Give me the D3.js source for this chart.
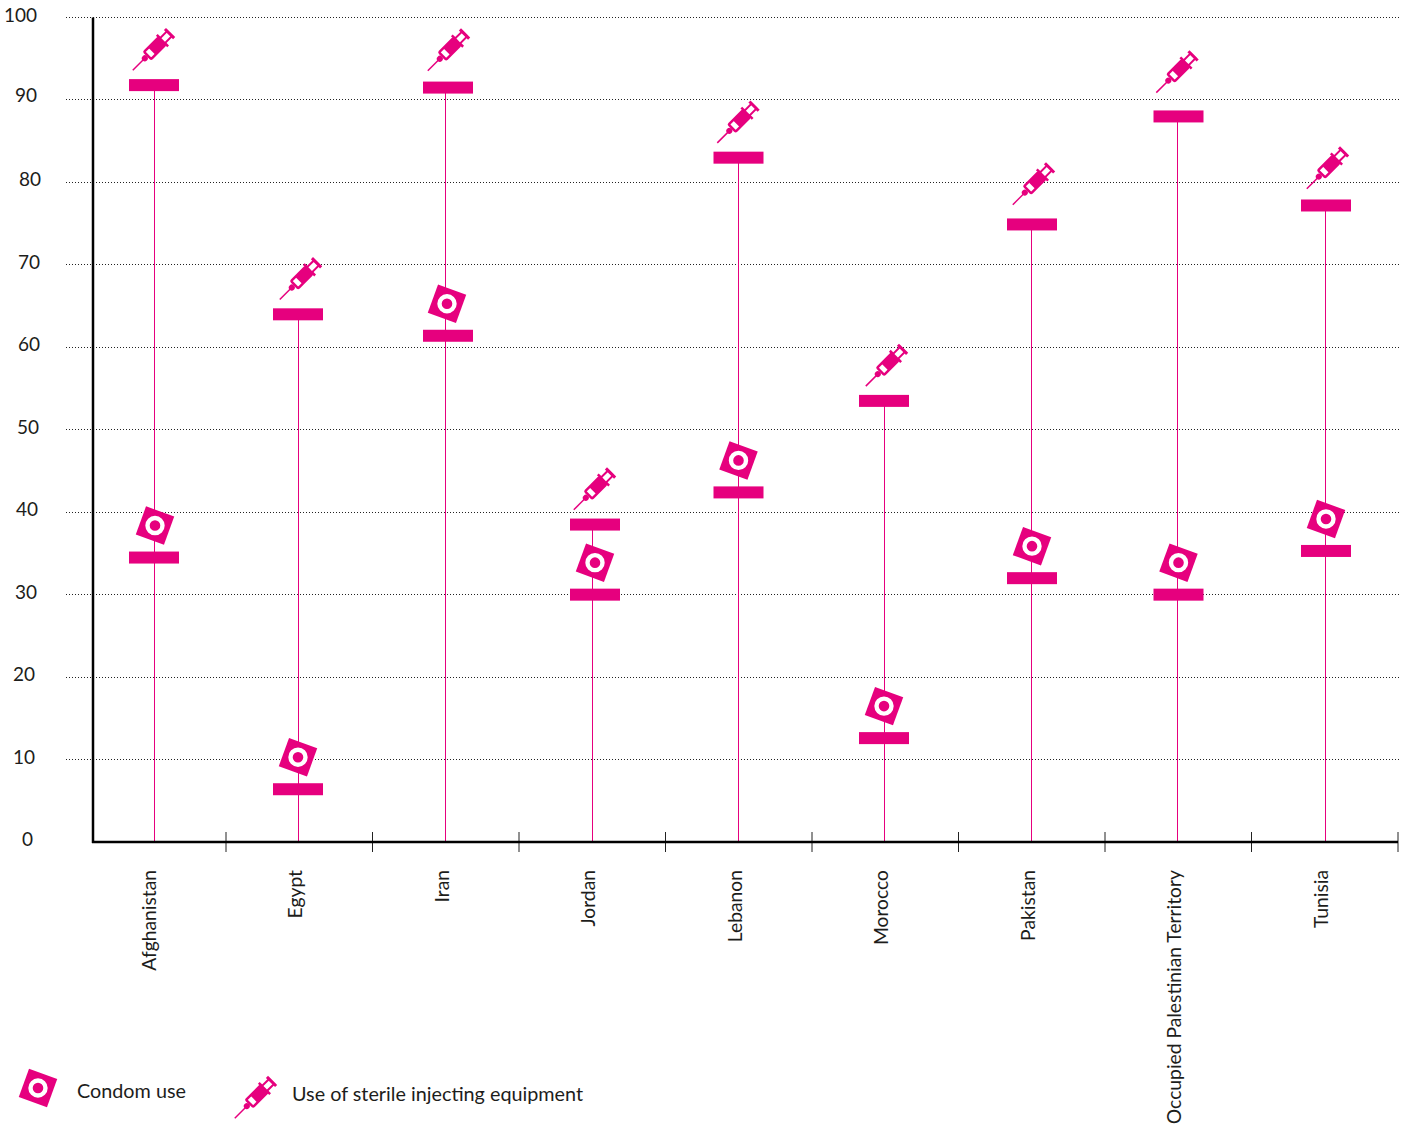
<!DOCTYPE html>
<html>
<head>
<meta charset="utf-8">
<script src="https://cdn.jsdelivr.net/npm/d3@7/dist/d3.min.js"></script>
<style>
  body { margin: 0; background: #fff; }
  text { font-family: Lato, sans-serif; fill: #1d1d1b; }
</style>
</head>
<body>
<div id="vis"></div>
<script>
var countries = ['Afghanistan', 'Egypt', 'Iran', 'Jordan', 'Lebanon', 'Morocco', 'Pakistan',
  'Occupied Palestinian Territory', 'Tunisia'];
var condomUse = [34.5, 6.4, 61.4, 30, 42.4, 12.6, 32, 30, 35.3];
var sterileEquipment = [91.8, 64, 91.5, 38.5, 83, 53.5, 74.9, 88, 77.2];
var yTicks = [0, 10, 20, 30, 40, 50, 60, 70, 80, 90, 100];

var width = 1408;
var height = 1126;
var pink = '#e6007e';

// the original was placed by hand, so stems, markers and y labels wander a little
var stemNudge = [1.25, -1.25, -0.75, -0.25, -0.75, -1.25, -0.75, -1.25, 0.25];
var markNudge = [1.25, -1.25, 2.25, 2.75, -0.25, -1.25, 0.25, 0.25, 1.25];
var syringeDx = [0, 3, 1, 0, 0, 3, 2, -1, 2];
var syringeDy = [-36, -36, -38, -36, -36, -36, -41, -45, -38];
var condomDx = [1, 0, -1, 0, 0, 0, 0, 0, 0];
var condomDy = [-32, -32, -32, -32, -32, -32, -32, -32, -32];
var yLabelRight = { 0: 33, 10: 35, 20: 35, 30: 37, 40: 38, 50: 39, 60: 40, 70: 40, 80: 41, 90: 37, 100: 37 };
var yLabelDy = { 90: 0 };

var svg = d3.select('#vis').append('svg')
  .attr('width', width)
  .attr('height', height);

var x = d3.scaleBand().domain(countries).range([79.5, 1398]);
var y = d3.scaleLinear().domain([0, 100]).range([842, 17.5]);

function xMid(name) {
  return x(name) + x.bandwidth() / 2;
}

// y labels
var yAxis = svg.append('g')
  .call(d3.axisLeft(y).tickValues(yTicks).tickSize(0).tickPadding(0));
yAxis.select('.domain').remove();
yAxis.selectAll('text')
  .attr('font-size', 19)
  .attr('x', function (d) { return yLabelRight[d]; })
  .attr('dy', '0.08em')
  .attr('transform', function (d) {
    return 'translate(0,' + (d in yLabelDy ? yLabelDy[d] : 2) + ')';
  })
  .style('font-family', 'Lato, sans-serif');

// gridlines
svg.append('g').selectAll('line')
  .data(yTicks.filter(function (d) { return d > 0; }))
  .enter().append('line')
  .attr('x1', 66)
  .attr('x2', 1400)
  .attr('y1', function (d) { return y(d); })
  .attr('y2', function (d) { return y(d); })
  .attr('stroke', '#222')
  .attr('stroke-width', 1)
  .attr('stroke-dasharray', '1 2')
  .attr('shape-rendering', 'crispEdges');

// stems
svg.append('g').selectAll('line')
  .data(countries)
  .enter().append('line')
  .attr('x1', function (d, i) { return xMid(d) + stemNudge[i]; })
  .attr('x2', function (d, i) { return xMid(d) + stemNudge[i]; })
  .attr('y1', function (d, i) { return y(sterileEquipment[i]); })
  .attr('y2', y(0))
  .attr('stroke', pink)
  .attr('stroke-width', 1)
  .attr('shape-rendering', 'crispEdges');

// x axis with ticks on the band edges
var xAxis = svg.append('g')
  .attr('transform', 'translate(0,' + y(0) + ')')
  .call(d3.axisBottom(x).tickSize(0).tickPadding(0));
xAxis.select('.domain').remove();
xAxis.selectAll('text')
  .attr('font-size', 19.3)
  .attr('text-anchor', 'end')
  .attr('dy', 0)
  .attr('transform', 'translate(3,28) rotate(-90)')
  .style('font-family', 'Lato, sans-serif');

svg.append('g').selectAll('line')
  .data(countries)
  .enter().append('line')
  .attr('x1', function (d) { return x(d) + x.bandwidth(); })
  .attr('x2', function (d) { return x(d) + x.bandwidth(); })
  .attr('y1', y(0) - 10)
  .attr('y2', y(0) + 10)
  .attr('stroke', '#222')
  .attr('stroke-width', 1);

svg.append('line')
  .attr('x1', 92)
  .attr('x2', 1398)
  .attr('y1', y(0))
  .attr('y2', y(0))
  .attr('stroke', '#000')
  .attr('stroke-width', 2.5);
svg.append('line')
  .attr('x1', 93)
  .attr('x2', 93)
  .attr('y1', y(100))
  .attr('y2', y(0) + 1)
  .attr('stroke', '#000')
  .attr('stroke-width', 2.5);

function drawCondom(g) {
  g.append('rect')
    .attr('x', -15).attr('y', -15)
    .attr('width', 30).attr('height', 30)
    .attr('transform', 'rotate(20)')
    .attr('fill', pink);
  g.append('circle')
    .attr('r', 7.5)
    .attr('fill', pink)
    .attr('stroke', '#fff')
    .attr('stroke-width', 4.4);
}

function drawSyringe(g) {
  var s = g.append('g').attr('transform', 'rotate(-45)');
  // needle and hub
  s.append('line').attr('x1', -30).attr('x2', -12)
    .attr('stroke', pink).attr('stroke-width', 1.5);
  s.append('circle').attr('cx', -13).attr('r', 3).attr('fill', pink);
  // barrel
  s.append('rect').attr('x', -9).attr('y', -5).attr('width', 20).attr('height', 10)
    .attr('rx', 1).attr('fill', '#fff').attr('stroke', pink).attr('stroke-width', 2.5);
  s.append('rect').attr('x', -3).attr('y', -5).attr('width', 14).attr('height', 10)
    .attr('fill', pink);
  // plunger
  s.append('line').attr('x1', 12).attr('x2', 12).attr('y1', -8).attr('y2', 8)
    .attr('stroke', pink).attr('stroke-width', 2.5);
  s.append('rect').attr('x', 12).attr('y', -3.5).attr('width', 10).attr('height', 7)
    .attr('fill', '#fff').attr('stroke', pink).attr('stroke-width', 2);
  s.append('line').attr('x1', 22).attr('x2', 22).attr('y1', -6.5).attr('y2', 6.5)
    .attr('stroke', pink).attr('stroke-width', 3);
}

// bars and their icons
function drawMarks(values, icon, iconDx, iconDy) {
  var marks = svg.append('g').selectAll('g')
    .data(countries)
    .enter().append('g')
    .attr('transform', function (d, i) {
      return 'translate(' + (xMid(d) + markNudge[i]) + ',' + y(values[i]) + ')';
    });
  marks.append('rect')
    .attr('x', -25)
    .attr('y', -6)
    .attr('width', 50)
    .attr('height', 12)
    .attr('fill', pink);
  marks.append('g')
    .attr('transform', function (d, i) {
      return 'translate(' + iconDx[i] + ',' + iconDy[i] + ')';
    })
    .each(function () { icon(d3.select(this)); });
}

drawMarks(condomUse, drawCondom, condomDx, condomDy);
drawMarks(sterileEquipment, drawSyringe, syringeDx, syringeDy);

// legend
drawCondom(svg.append('g').attr('transform', 'translate(38,1088)'));
svg.append('text').attr('x', 77).attr('y', 1098).attr('font-size', 19.8).text('Condom use');
drawSyringe(svg.append('g').attr('transform', 'translate(256,1097)'));
svg.append('text').attr('x', 292).attr('y', 1101).attr('font-size', 19.8).text('Use of sterile injecting equipment');
</script>
</body>
</html>
